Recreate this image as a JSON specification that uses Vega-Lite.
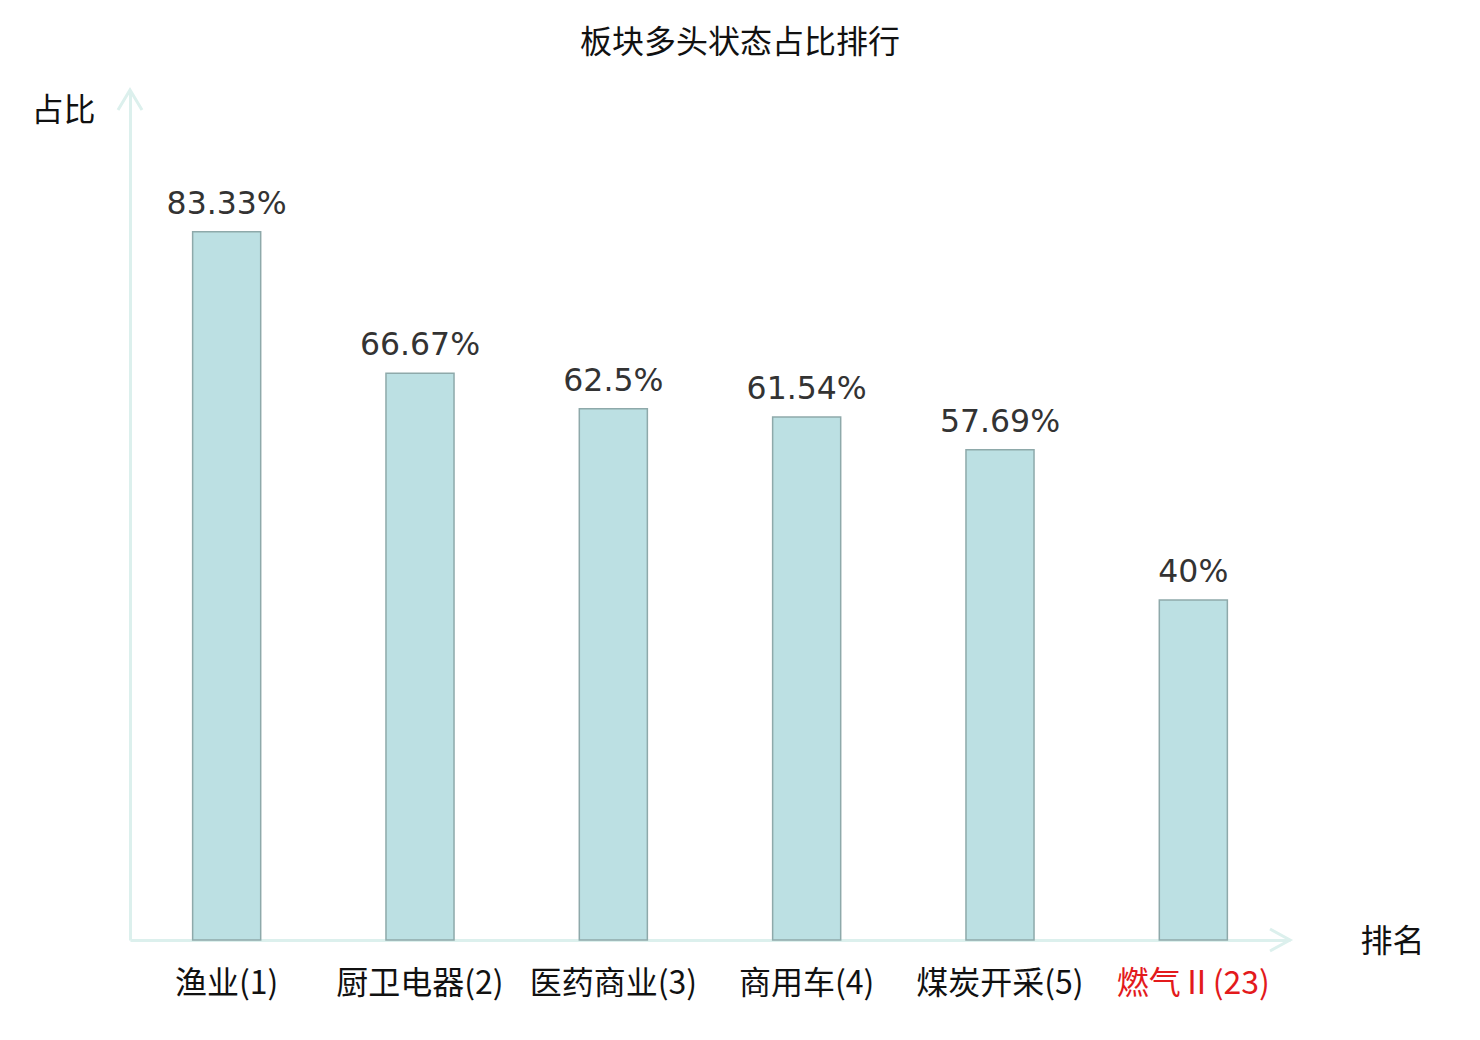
{
  "$schema": "https://vega.github.io/schema/vega-lite/v6.json",
  "width": 1160,
  "height": 850,
  "autosize": {"type": "none"},
  "padding": {"left": 130, "top": 90, "right": 190, "bottom": 100},
  "background": "white",
  "title": {
    "text": "板块多头状态占比排行",
    "font": "Noto Sans CJK SC",
    "fontSize": 32,
    "fontWeight": "normal",
    "color": "#111111",
    "anchor": "middle",
    "frame": "group",
    "dx": 30,
    "offset": 24
  },
  "config": {"view": {"stroke": null}},
  "resolve": {"scale": {"x": "independent"}},
  "layer": [
    {
      "data": {
        "values": [
          {"sector": "渔业(1)", "pct": 83.33, "label": "83.33%"},
          {"sector": "厨卫电器(2)", "pct": 66.67, "label": "66.67%"},
          {"sector": "医药商业(3)", "pct": 62.5, "label": "62.5%"},
          {"sector": "商用车(4)", "pct": 61.54, "label": "61.54%"},
          {"sector": "煤炭开采(5)", "pct": 57.69, "label": "57.69%"},
          {"sector": "燃气Ⅱ(23)", "pct": 40, "label": "40%"}
        ]
      },
      "encoding": {
        "x": {
          "field": "sector",
          "type": "nominal",
          "sort": null,
          "scale": {"paddingInner": 0.648, "paddingOuter": 0.324},
          "axis": {
            "title": "排名",
            "titleFont": "Noto Sans CJK SC",
            "titleFontSize": 32,
            "titleFontWeight": "normal",
            "titleColor": "#111111",
            "titleAngle": 0,
            "titleX": 1262,
            "titleY": 1,
            "titleAlign": "center",
            "titleBaseline": "middle",
            "labelAngle": 0,
            "labelFont": "Noto Sans CJK SC",
            "labelFontSize": 32,
            "labelColor": {"condition": {"test": "datum.value == '燃气Ⅱ(23)'", "value": "#e31a1c"}, "value": "#111111"},
            "labelBaseline": "middle",
            "labelPadding": 43,
            "ticks": false,
            "domainColor": "#dcf0ed",
            "domainWidth": 3,
            "grid": false
          }
        },
        "y": {
          "field": "pct",
          "type": "quantitative",
          "scale": {"domain": [0, 100], "nice": false},
          "axis": {
            "title": "占比",
            "titleFont": "Noto Sans CJK SC",
            "titleFontSize": 32,
            "titleFontWeight": "normal",
            "titleColor": "#111111",
            "titleAngle": 0,
            "titleX": -67,
            "titleY": 20,
            "titleAlign": "center",
            "titleBaseline": "middle",
            "labels": false,
            "ticks": false,
            "grid": false,
            "domainColor": "#dcf0ed",
            "domainWidth": 3
          }
        }
      },
      "layer": [
        {
          "mark": {"type": "bar", "fill": "#bce0e3", "stroke": "#8ea9aa", "strokeWidth": 1.5}
        },
        {
          "mark": {"type": "text", "font": "DejaVu Sans", "fontSize": 31.5, "color": "#333333", "baseline": "alphabetic", "dy": -18},
          "encoding": {"text": {"field": "label"}}
        }
      ]
    },
    {
      "data": {"values": [{"end": "top"}]},
      "mark": {"type": "point", "shape": "M-0.6,1L0,0L0.6,1", "filled": false, "stroke": "#dcf0ed", "strokeWidth": 3, "size": 1600, "opacity": 1},
      "encoding": {
        "x": {"datum": 0, "type": "quantitative", "scale": {"domain": [0, 1]}, "axis": null},
        "y": {"datum": 100, "type": "quantitative"}
      }
    },
    {
      "data": {"values": [{"end": "right"}]},
      "mark": {"type": "point", "shape": "M-1,-0.55L0,0L-1,0.55", "filled": false, "stroke": "#dcf0ed", "strokeWidth": 3, "size": 1600, "opacity": 1},
      "encoding": {
        "x": {"datum": 1, "type": "quantitative", "scale": {"domain": [0, 1]}, "axis": null},
        "y": {"datum": 0, "type": "quantitative"}
      }
    }
  ]
}
